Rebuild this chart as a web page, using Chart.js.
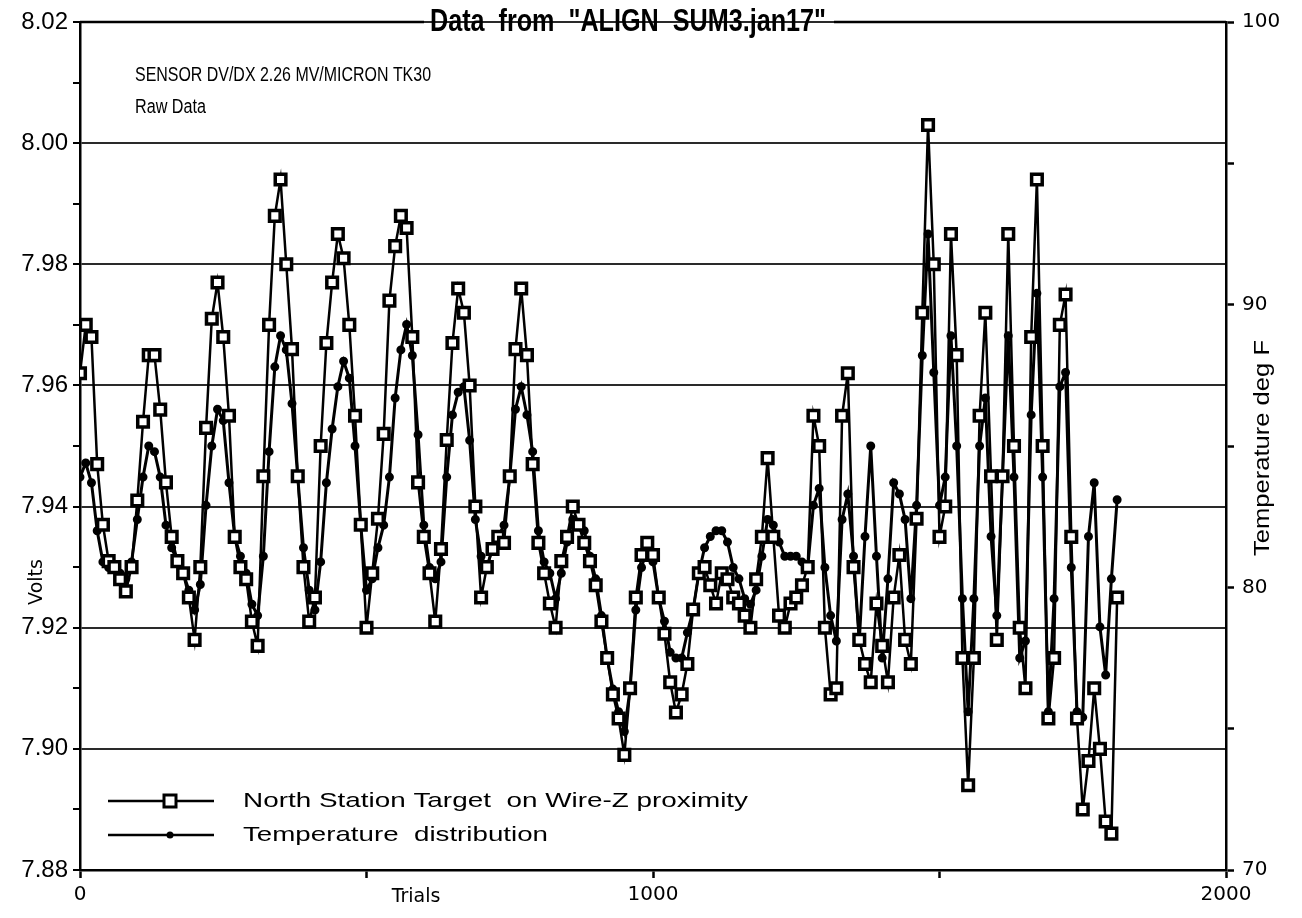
<!DOCTYPE html>
<html>
<head>
<meta charset="utf-8">
<script src="https://cdn.jsdelivr.net/npm/chart.js@4.4.0/dist/chart.umd.min.js"></script>
<style>
  body { margin: 0; background: #fff; }
  canvas { display: block; }
</style>
</head>
<body>
<canvas id="chart" width="1302" height="918"></canvas>
<script>
// trial numbers (sampled every 10 trials)
const trials = [
  0, 10, 20, 30, 40, 50, 60, 70, 80, 90,
  100, 110, 120, 130, 140, 150, 160, 170, 180, 190,
  200, 210, 220, 230, 240, 250, 260, 270, 280, 290,
  300, 310, 320, 330, 340, 350, 360, 370, 380, 390,
  400, 410, 420, 430, 440, 450, 460, 470, 480, 490,
  500, 510, 520, 530, 540, 550, 560, 570, 580, 590,
  600, 610, 620, 630, 640, 650, 660, 670, 680, 690,
  700, 710, 720, 730, 740, 750, 760, 770, 780, 790,
  800, 810, 820, 830, 840, 850, 860, 870, 880, 890,
  900, 910, 920, 930, 940, 950, 960, 970, 980, 990,
  1000, 1010, 1020, 1030, 1040, 1050, 1060, 1070, 1080, 1090,
  1100, 1110, 1120, 1130, 1140, 1150, 1160, 1170, 1180, 1190,
  1200, 1210, 1220, 1230, 1240, 1250, 1260, 1270, 1280, 1290,
  1300, 1310, 1320, 1330, 1340, 1350, 1360, 1370, 1380, 1390,
  1400, 1410, 1420, 1430, 1440, 1450, 1460, 1470, 1480, 1490,
  1500, 1510, 1520, 1530, 1540, 1550, 1560, 1570, 1580, 1590,
  1600, 1610, 1620, 1630, 1640, 1650, 1660, 1670, 1680, 1690,
  1700, 1710, 1720, 1730, 1740, 1750, 1760, 1770, 1780, 1790,
  1800, 1810
];

// North Station Target on Wire-Z proximity (Volts)
const volts = [
  7.962, 7.970, 7.968, 7.947, 7.937, 7.931, 7.930, 7.928, 7.926, 7.930,
  7.941, 7.954, 7.965, 7.965, 7.956, 7.944, 7.935, 7.931, 7.929, 7.925,
  7.918, 7.930, 7.953, 7.971, 7.977, 7.968, 7.955, 7.935, 7.930, 7.928,
  7.921, 7.917, 7.945, 7.970, 7.988, 7.994, 7.980, 7.966, 7.945, 7.930,
  7.921, 7.925, 7.950, 7.967, 7.977, 7.985, 7.981, 7.970, 7.955, 7.937,
  7.920, 7.929, 7.938, 7.952, 7.974, 7.983, 7.988, 7.986, 7.968, 7.944,
  7.935, 7.929, 7.921, 7.933, 7.951, 7.967, 7.976, 7.972, 7.960, 7.940,
  7.925, 7.930, 7.933, 7.935, 7.934, 7.945, 7.966, 7.976, 7.965, 7.947,
  7.934, 7.929, 7.924, 7.920, 7.931, 7.935, 7.940, 7.937, 7.934, 7.931,
  7.927, 7.921, 7.915, 7.909, 7.905, 7.899, 7.910, 7.925, 7.932, 7.934,
  7.932, 7.925, 7.919, 7.911, 7.906, 7.909, 7.914, 7.923, 7.929, 7.930,
  7.927, 7.924, 7.929, 7.928, 7.925, 7.924, 7.922, 7.920, 7.928, 7.935,
  7.948, 7.935, 7.922, 7.920, 7.924, 7.925, 7.927, 7.930, 7.955, 7.950,
  7.920, 7.909, 7.910, 7.955, 7.962, 7.930, 7.918, 7.914, 7.911, 7.924,
  7.917, 7.911, 7.925, 7.932, 7.918, 7.914, 7.938, 7.972, 8.003, 7.980,
  7.935, 7.940, 7.985, 7.965, 7.915, 7.894, 7.915, 7.955, 7.972, 7.945,
  7.918, 7.945, 7.985, 7.950, 7.920, 7.910, 7.968, 7.994, 7.950, 7.905,
  7.915, 7.970, 7.975, 7.935, 7.905, 7.890, 7.898, 7.910, 7.900, 7.888,
  7.886, 7.925
];

// Temperature distribution (deg F)
const tempF = [
  83.9, 84.4, 83.7, 82.0, 80.9, 80.7, 80.7, 80.5, 80.3, 80.9,
  82.4, 83.9, 85.0, 84.8, 83.9, 82.2, 81.4, 80.9, 80.5, 79.9,
  79.2, 80.1, 82.9, 85.0, 86.3, 85.9, 83.7, 81.8, 81.1, 80.5,
  79.4, 79.0, 81.1, 84.8, 87.8, 88.9, 88.4, 86.5, 83.9, 81.4,
  79.9, 79.2, 80.9, 83.7, 85.6, 87.1, 88.0, 87.4, 85.0, 82.2,
  79.9, 80.3, 81.4, 82.2, 83.9, 86.7, 88.4, 89.3, 88.2, 85.4,
  82.2, 80.7, 80.3, 80.9, 83.9, 86.1, 86.9, 87.1, 85.2, 82.4,
  81.1, 80.7, 81.4, 81.8, 82.2, 83.9, 86.3, 87.1, 86.1, 84.8,
  82.0, 80.9, 80.5, 79.6, 80.5, 81.6, 82.4, 82.2, 82.0, 81.1,
  80.3, 79.0, 77.5, 76.4, 75.6, 74.9, 76.4, 79.2, 80.7, 81.4,
  80.9, 79.6, 78.8, 77.7, 77.5, 77.5, 78.4, 79.2, 80.5, 81.4,
  81.8, 82.0, 82.0, 81.6, 80.7, 80.3, 79.6, 79.4, 79.9, 81.1,
  82.4, 82.2, 81.6, 81.1, 81.1, 81.1, 80.9, 80.7, 82.9, 83.5,
  80.7, 79.0, 78.1, 82.4, 83.3, 81.1, 78.1, 81.8, 85.0, 81.1,
  77.5, 80.3, 83.7, 83.3, 82.4, 79.6, 82.9, 88.2, 92.5, 87.6,
  82.9, 83.9, 88.9, 85.0, 79.6, 75.6, 79.6, 85.0, 86.7, 81.8,
  79.0, 83.9, 88.9, 83.9, 77.5, 78.1, 86.1, 90.4, 83.9, 75.6,
  79.6, 87.1, 87.6, 80.7, 75.6, 75.4, 81.8, 83.7, 78.6, 76.9,
  80.3, 83.1
];

// axis ranges and tick steps
const trialRange = [0, 2000];
const voltRange = [7.88, 8.02];
const tempRange = [70, 100];
const trialLabels = [0, 1000, 2000];

const voltPoints = trials.map((t, i) => ({ x: t, y: volts[i] }));
const tempPoints = trials.map((t, i) => ({ x: t, y: tempF[i] }));

const narrow = '"Liberation Sans Narrow", "Liberation Sans", Arial, sans-serif';
const plain = '"Liberation Sans", Arial, sans-serif';
const wide = '"DejaVu Sans", sans-serif';

// draw text squeezed/stretched to a given width
function fitText(ctx, text, x, y, width) {
  const w = ctx.measureText(text).width;
  ctx.save();
  ctx.translate(x, y);
  ctx.scale(width / w, 1);
  ctx.fillText(text, 0, 0);
  ctx.restore();
}

// frame top, title, notes, axis titles and legend
const decorations = {
  id: 'decorations',
  afterDraw(chart) {
    const ctx = chart.ctx;
    const a = chart.chartArea;
    ctx.save();
    ctx.strokeStyle = '#000';
    ctx.fillStyle = '#000';
    ctx.textAlign = 'left';

    // title, breaking the top frame line
    const tx = 430, tEnd = 826;
    ctx.lineWidth = 2.5;
    ctx.beginPath();
    ctx.moveTo(a.left, a.top); ctx.lineTo(tx - 6, a.top);
    ctx.moveTo(tEnd + 8, a.top); ctx.lineTo(a.right, a.top);
    ctx.stroke();
    ctx.font = 'bold 32px ' + plain;
    ctx.textBaseline = 'alphabetic';
    fitText(ctx, 'Data  from  "ALIGN  SUM3.jan17"', tx, 31, tEnd - tx);

    // notes
    ctx.font = '20px ' + plain;
    ctx.textBaseline = 'middle';
    fitText(ctx, 'SENSOR DV/DX 2.26 MV/MICRON TK30', 135, 75, 296);
    fitText(ctx, 'Raw Data', 135, 107, 71);

    // x title
    ctx.font = '19px ' + wide;
    ctx.textAlign = 'center';
    ctx.fillText('Trials', 416, 897);

    // y titles
    ctx.save();
    ctx.translate(37, 582);
    ctx.rotate(-Math.PI / 2);
    ctx.font = '19px ' + wide;
    ctx.fillText('Volts', 0, 0);
    ctx.restore();
    ctx.save();
    ctx.translate(1263, 448);
    ctx.rotate(-Math.PI / 2);
    ctx.font = '22px ' + plain;
    ctx.textAlign = 'left';
    fitText(ctx, 'Temperature deg F', -108, 0, 216);
    ctx.restore();

    // legend
    const rows = [
      { y: 801, label: 'North Station Target  on Wire-Z proximity', square: true },
      { y: 835, label: 'Temperature  distribution', square: false }
    ];
    ctx.font = '21px ' + plain;
    ctx.textAlign = 'left';
    rows.forEach(r => {
      ctx.lineWidth = 2.5;
      ctx.beginPath();
      ctx.moveTo(108, r.y); ctx.lineTo(214, r.y);
      ctx.stroke();
      if (r.square) {
        ctx.lineWidth = 3;
        ctx.fillStyle = '#fff';
        ctx.fillRect(164, r.y - 6, 12, 12);
        ctx.strokeRect(164, r.y - 6, 12, 12);
        ctx.fillStyle = '#000';
      } else {
        ctx.beginPath();
        ctx.arc(170, r.y, 3.5, 0, Math.PI * 2);
        ctx.fill();
      }
      fitText(ctx, r.label, 243, r.y, r.square ? 505 : 305);
    });
    ctx.restore();
  }
};

const isMajorVolt = v => Math.round(v * 100) % 2 === 0;

new Chart(document.getElementById('chart').getContext('2d'), {
  type: 'line',
  data: {
    datasets: [
      {
        label: 'North Station Target  on Wire-Z proximity',
        data: voltPoints,
        yAxisID: 'y',
        borderColor: '#000',
        borderWidth: 2.5,
        pointStyle: 'rect',
        pointRadius: 7.5,
        pointBorderWidth: 3.5,
        pointBackgroundColor: '#fff',
        pointBorderColor: '#000',
        tension: 0,
        order: 0
      },
      {
        label: 'Temperature  distribution',
        data: tempPoints,
        yAxisID: 'yT',
        borderColor: '#000',
        borderWidth: 3,
        pointStyle: 'circle',
        pointRadius: 3,
        pointBackgroundColor: '#000',
        pointBorderColor: '#000',
        tension: 0,
        order: 1
      }
    ]
  },
  options: {
    responsive: false,
    animation: false,
    layout: { padding: { top: 22, left: 0, right: 0, bottom: 0 } },
    plugins: {
      legend: { display: false },
      tooltip: { enabled: false }
    },
    scales: {
      x: {
        type: 'linear',
        min: trialRange[0],
        max: trialRange[1],
        afterFit: s => { s.height = 48; },
        ticks: {
          stepSize: 500,
          color: '#000',
          font: { family: wide, size: 20 },
          padding: 5,
          maxRotation: 0,
          callback: v => trialLabels.includes(v) ? String(v) : ''
        },
        grid: { drawOnChartArea: false, tickLength: 8, tickColor: '#000', tickWidth: 2.5 },
        border: { display: true, color: '#000', width: 2.5 }
      },
      y: {
        position: 'left',
        min: voltRange[0],
        max: voltRange[1],
        afterFit: s => { s.width = 80; },
        ticks: {
          stepSize: 0.01,
          color: '#000',
          font: { family: narrow, size: 24 },
          padding: 5,
          callback: v => isMajorVolt(v) ? v.toFixed(2) : ''
        },
        grid: {
          color: c => isMajorVolt(c.tick.value) ? '#2a2a2a' : 'rgba(0,0,0,0)',
          lineWidth: 2,
          tickLength: 7,
          tickColor: '#000',
          tickWidth: 2
        },
        border: { display: true, color: '#000', width: 2.5 }
      },
      yT: {
        position: 'right',
        min: tempRange[0],
        max: tempRange[1],
        afterFit: s => { s.width = 76; },
        ticks: {
          stepSize: 5,
          color: '#000',
          font: { family: wide, size: 20 },
          padding: 8,
          callback: v => v % 10 === 0 ? String(v) : ''
        },
        grid: { drawOnChartArea: false, tickLength: 8, tickColor: '#000', tickWidth: 2.5 },
        border: { display: true, color: '#000', width: 2.5 }
      }
    }
  },
  plugins: [decorations]
});
</script>
</body>
</html>
